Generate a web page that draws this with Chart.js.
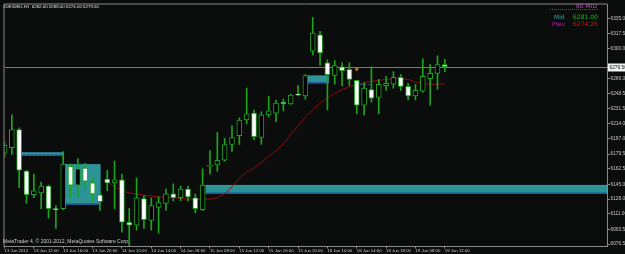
<!DOCTYPE html>
<html lang="en">
<head>
<meta charset="UTF-8">
<title>DE30EU H1</title>
<script src="https://cdn.jsdelivr.net/npm/chart.js"></script>
<style>
  html, body { margin: 0; padding: 0; background: #0a0d0c; }
  #wrap { position: relative; width: 625px; height: 254px; }
</style>
</head>
<body>
<div id="wrap"><canvas id="chart"></canvas></div>
<script>
// H1 candles, bar 0 = 13 Jun 2012 08:00
const opens = [6180.5, 6187, 6207.5, 6160, 6133, 6135, 6143, 6116.5, 6117, 6165.5,
  6144, 6163.5, 6146.5, 6133, 6151, 6146.5, 6150, 6101.5, 6098, 6128.5,
  6103.5, 6118.5, 6123, 6134, 6129.5, 6139.5, 6129.5, 6116, 6165.5, 6167,
  6172.5, 6190.5, 6200.5, 6218.5, 6226.5, 6198.5, 6224.5, 6226.5, 6239, 6237,
  6247.5, 6246, 6297.5, 6316, 6284, 6269.5, 6279.5, 6276.5, 6264, 6235.5,
  6253.5, 6244.5, 6258, 6259.5, 6267.5, 6257, 6246, 6251.5, 6266, 6272,
  6282];
const highs = [6194, 6224.5, 6209.5, 6161, 6156.5, 6147.5, 6144, 6120.5, 6182.5, 6168,
  6174.5, 6169, 6152, 6137.5, 6161, 6171.5, 6156.5, 6117, 6152, 6132,
  6129.5, 6130.5, 6139.5, 6145.5, 6143, 6143, 6134, 6162.5, 6183.5, 6204,
  6197.5, 6212, 6221, 6255, 6230, 6228, 6246, 6241.5, 6242.5, 6248,
  6258, 6270.5, 6336, 6320, 6287.5, 6286.5, 6284, 6284, 6264, 6261.5,
  6279.5, 6265, 6268.5, 6274, 6270.5, 6260.5, 6259.5, 6288.5, 6282, 6292,
  6288];
const lows = [6176, 6179, 6141, 6123, 6129.5, 6117, 6106, 6094.5, 6116, 6129.5,
  6129.5, 6139.5, 6126, 6115, 6137.5, 6117, 6090, 6074.5, 6092.5, 6094.5,
  6092.5, 6089, 6115, 6126, 6126, 6126, 6112.5, 6115, 6156.5, 6160,
  6171.5, 6182.5, 6190.5, 6214, 6196, 6190.5, 6222, 6216.5, 6229, 6236.5,
  6246, 6242.5, 6293, 6281, 6230, 6259.5, 6258, 6258, 6225.5, 6224.5,
  6239, 6225.5, 6252.5, 6255, 6252.5, 6241.5, 6241.5, 6250, 6235.5, 6253.5,
  6274];
const closes = [6189.5, 6207.5, 6161, 6133, 6137.5, 6143, 6117, 6116, 6168, 6144,
  6162.5, 6148.5, 6134, 6125, 6146.5, 6150, 6101.5, 6098, 6129.5, 6104.5,
  6120.5, 6124, 6134, 6129.5, 6139.5, 6130.5, 6117, 6144, 6166, 6172.5,
  6190.5, 6198.5, 6218.5, 6225.5, 6199.5, 6224.5, 6229, 6238, 6237, 6247,
  6247, 6269.5, 6318, 6295.5, 6270.5, 6281, 6275, 6265, 6235.5, 6255,
  6243.5, 6259.5, 6260.5, 6267.5, 6257, 6246, 6252.5, 6268.5, 6272, 6282,
  6279.5];

// moving average, first value at bar 14
const maStart = 14;
const maValues = [6147.5, 6142, 6137.5, 6135, 6134, 6132.5, 6131.5, 6130.5, 6130, 6129.5,
  6129, 6128, 6127.5, 6127.5, 6128, 6129.5, 6134, 6142, 6152, 6159,
  6163.5, 6170, 6177, 6183.5, 6191.5, 6202, 6212, 6222, 6230, 6238,
  6244, 6249, 6253.5, 6256.5, 6259.5, 6261, 6263, 6264, 6265, 6265.5,
  6266, 6265, 6262, 6260.5, 6259.5, 6259.5, 6260];

const priceTicks = [6335, 6317.5, 6300, 6266, 6248.5, 6231.5, 6214, 6197, 6179.5,
  6162.5, 6145, 6128, 6111, 6093.5, 6076.5];
const timeTickBars = [0, 4, 8, 12, 16, 20, 24, 28, 32, 36, 40, 44, 48, 52, 56, 60];
const timeLabels = ['13 Jun 2012', '13 Jun 12:00', '13 Jun 16:00', '13 Jun 20:00',
  '14 Jun 10:00', '14 Jun 14:00', '14 Jun 18:00', '15 Jun 08:00', '15 Jun 12:00',
  '15 Jun 16:00', '15 Jun 20:00', '18 Jun 10:00', '18 Jun 14:00', '18 Jun 18:00',
  '19 Jun 08:00', '19 Jun 12:00'];

// rectangles: bar range and price range
const zoneFrom = [2.3, 8.3, 41.3, 27.4];
const zoneTo = [8.0, 13.1, 44.2, 90];
const zoneHigh = [6181.5, 6167.9, 6269.5, 6144.2];
const zoneLow = [6177.5, 6121.7, 6260.5, 6134.1];

const bidPrice = 6279.5;
const markerBar = 48, markerPrice = 6276.8;
const dashFrom = 48.5, dashTo = 49.8, dashPrice = 6259.4;
const midLevel = 6281.00, prevLevel = 6274.25;

const GREEN = '#1fa31f';
const FONT = '"Liberation Sans", Arial, sans-serif';

const bars = opens.map((o, i) => i);

const overlay = {
  id: 'overlay',
  beforeDraw(chart) {
    const ctx = chart.ctx;
    ctx.save();
    ctx.fillStyle = '#0a0d0c';
    ctx.fillRect(0, 0, chart.width, chart.height);
    ctx.restore();
  },
  beforeDatasetsDraw(chart) {
    const { ctx, chartArea: a, scales: { x, y } } = chart;
    ctx.save();
    ctx.beginPath();
    ctx.rect(a.left, a.top, a.right - a.left, a.bottom - a.top);
    ctx.clip();
    zoneFrom.forEach((f, i) => {
      const x0 = x.getPixelForValue(f), x1 = x.getPixelForValue(zoneTo[i]);
      const y0 = y.getPixelForValue(zoneHigh[i]), y1 = y.getPixelForValue(zoneLow[i]);
      ctx.fillStyle = '#2c9497';
      ctx.fillRect(x0, y0, x1 - x0, y1 - y0);
      ctx.fillStyle = '#2152a6';
      ctx.fillRect(x0, y1 - 1.3, x1 - x0, 1.3);
      ctx.strokeStyle = '#4b9fc4';
      ctx.lineWidth = 0.7;
      ctx.setLineDash([2, 2]);
      ctx.beginPath();
      ctx.moveTo(x0, y0 + 0.5);
      ctx.lineTo(x1, y0 + 0.5);
      ctx.stroke();
      ctx.setLineDash([]);
    });
    // bid line
    const yb = Math.round(y.getPixelForValue(bidPrice)) + 0.5;
    ctx.strokeStyle = '#7a7a7a';
    ctx.lineWidth = 1;
    ctx.beginPath();
    ctx.moveTo(a.left, yb);
    ctx.lineTo(a.right, yb);
    ctx.stroke();
    // small dashed level
    const yd = Math.round(y.getPixelForValue(dashPrice)) + 0.5;
    ctx.strokeStyle = '#2f5fb0';
    ctx.setLineDash([2, 2]);
    ctx.beginPath();
    ctx.moveTo(x.getPixelForValue(dashFrom), yd);
    ctx.lineTo(x.getPixelForValue(dashTo), yd);
    ctx.stroke();
    ctx.restore();
  },
  afterDraw(chart) {
    const { ctx, chartArea: a, scales: { y } } = chart;
    ctx.save();
    // frame top and left
    ctx.strokeStyle = '#8a8a8a';
    ctx.lineWidth = 1;
    ctx.beginPath();
    ctx.moveTo(a.left - 0.5, a.bottom);
    ctx.lineTo(a.left - 0.5, a.top - 0.5);
    ctx.lineTo(a.right, a.top - 0.5);
    ctx.stroke();

    const last = opens.length - 1;
    ctx.fillStyle = '#e4e4e4';
    ctx.font = '4.4px ' + FONT;
    ctx.textBaseline = 'alphabetic';
    ctx.fillText('#DE30EU.H1  ' + [opens[last], highs[last], lows[last], closes[last]]
      .map(v => v.toFixed(2)).join(' '), 3, 7.5);

    ctx.fillStyle = '#cfcfcf';
    ctx.font = '5px ' + FONT;
    ctx.fillText('MetaTrader 4, \u00a9 2001-2012, MetaQuotes Software Corp.', 3, 243);

    // indicator panel top right
    ctx.font = '6px "DejaVu Sans", sans-serif';
    ctx.fillStyle = '#b452b4';
    ctx.fillText('60 MID', 576, 7.5);
    ctx.strokeStyle = '#7e3a7e';
    ctx.setLineDash([1, 1]);
    ctx.beginPath();
    ctx.moveTo(550, 9.5);
    ctx.lineTo(597, 9.5);
    ctx.stroke();
    ctx.setLineDash([]);
    ctx.fillStyle = '#35a3b8';
    ctx.fillText('Mid', 554, 18.5);
    ctx.fillStyle = '#22b822';
    ctx.fillText(midLevel.toFixed(2), 573, 18.5);
    ctx.fillStyle = '#c61ec6';
    ctx.fillText('Prev', 552, 26);
    ctx.fillStyle = '#d01616';
    ctx.fillText(prevLevel.toFixed(2), 573, 26);

    // current price label on axis
    const yb = Math.round(y.getPixelForValue(bidPrice)) + 0.5;
    ctx.fillStyle = '#f2f2f2';
    ctx.fillRect(a.right + 1, yb - 4, 18, 8);
    ctx.fillStyle = '#101010';
    ctx.font = '4.8px ' + FONT;
    ctx.textBaseline = 'middle';
    ctx.fillText(bidPrice.toFixed(2), a.right + 2.5, yb);
    ctx.restore();
  }
};

new Chart(document.getElementById('chart'), {
  type: 'bar',
  data: {
    datasets: [
      {
        type: 'line',
        label: 'MA',
        data: maValues.map((v, i) => ({ x: maStart + i, y: v })),
        borderColor: '#8c0c0c',
        borderWidth: 1,
        pointRadius: 0,
        tension: 0,
        order: 4
      },
      {
        label: 'wicks',
        data: bars.map(i => ({ x: i, y: [lows[i], highs[i]] })),
        backgroundColor: GREEN,
        barThickness: 1,
        grouped: false,
        order: 3
      },
      {
        label: 'bodies',
        data: bars.map(i => ({ x: i, y: [opens[i], closes[i]] })),
        backgroundColor: bars.map(i => closes[i] >= opens[i] ? '#000000' : '#ffffff'),
        borderColor: GREEN,
        borderWidth: 1,
        borderSkipped: false,
        barThickness: 5,
        minBarLength: 1,
        grouped: false,
        order: 2
      },
      {
        type: 'scatter',
        label: 'marker',
        data: [{ x: markerBar, y: markerPrice }],
        pointStyle: 'rect',
        pointRadius: 1.8,
        backgroundColor: '#e07a1e',
        borderColor: '#b0560e',
        borderWidth: 0.5,
        order: 1
      }
    ]
  },
  options: {
    responsive: true,
    maintainAspectRatio: false,
    animation: false,
    events: [],
    layout: { padding: { left: 1, top: 1, right: 0, bottom: 0 } },
    plugins: {
      legend: { display: false },
      tooltip: { enabled: false }
    },
    scales: {
      x: {
        type: 'linear',
        position: 'bottom',
        min: 0,
        max: 82.1,
        offset: false,
        grid: { drawOnChartArea: false, drawTicks: true, tickLength: 2, color: '#8a8a8a', offset: false },
        border: { color: '#8a8a8a' },
        ticks: {
          autoSkip: false,
          maxRotation: 0,
          align: 'start',
          padding: 0,
          color: '#c8c8c8',
          font: { size: 4.3, family: FONT },
          callback: v => timeLabels[timeTickBars.indexOf(v)]
        },
        afterBuildTicks: s => { s.ticks = timeTickBars.map(v => ({ value: v })); },
        afterFit: s => { s.height = 7.5; }
      },
      y: {
        type: 'linear',
        position: 'right',
        min: 6073.7,
        max: 6350.8,
        grid: { drawOnChartArea: false, drawTicks: true, tickLength: 3, color: '#8a8a8a' },
        border: { color: '#8a8a8a' },
        ticks: {
          padding: 0.5,
          color: '#c8c8c8',
          font: { size: 4.8, family: FONT },
          callback: v => Number(v).toFixed(2)
        },
        afterBuildTicks: s => { s.ticks = priceTicks.map(v => ({ value: v })); },
        afterFit: s => { s.width = 18; }
      }
    }
  },
  plugins: [overlay]
});
</script>
</body>
</html>
